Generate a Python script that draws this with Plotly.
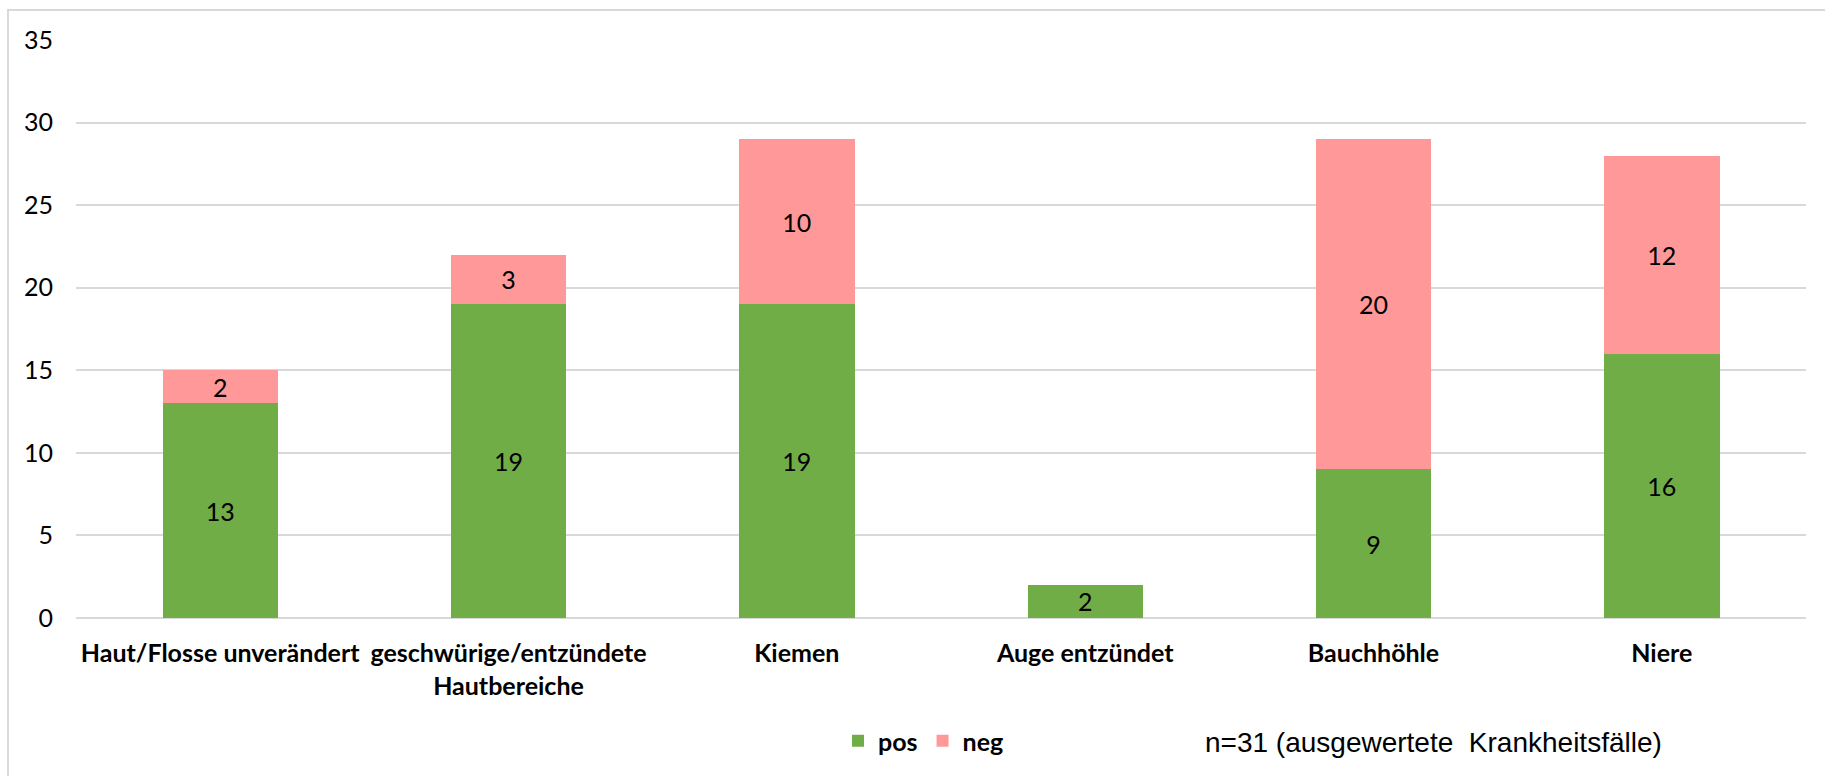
import plotly.graph_objects as go

# Befund je Organ/Körperregion: positive und negative Fälle
categories = [
    "Haut/Flosse unverändert",
    "geschwürige/entzündete<br>Hautbereiche",
    "Kiemen",
    "Auge entzündet",
    "Bauchhöhle",
    "Niere",
]
pos_values = [13, 19, 19, 2, 9, 16]
neg_values = [2, 3, 10, 0, 20, 12]
y_ticks = [0, 5, 10, 15, 20, 25, 30, 35]
note_text = "n=31 (ausgewertete  Krankheitsfälle)"

W, H = 1825, 776
L, R, T, B = 76, 19, 40, 158
plot_w = W - L - R
plot_h = H - T - B


def px_x(x):
    return (x - L) / plot_w


def px_y(y):
    return (H - B - y) / plot_h


FONT = "Lato, Calibri, sans-serif"
label_font = dict(family=FONT, size=25, color="#000000")


def labels(vals):
    return [str(v) if v else "" for v in vals]


fig = go.Figure()
fig.add_trace(go.Bar(
    name="pos", x=categories, y=pos_values, marker_color="#70AD47",
    marker_line_width=0,
    text=labels(pos_values), textposition="inside", insidetextanchor="middle",
    textangle=0, textfont=label_font,
))
fig.add_trace(go.Bar(
    name="neg", x=categories, y=neg_values, marker_color="#FF9999",
    marker_line_width=0,
    text=labels(neg_values), textposition="inside", insidetextanchor="middle",
    textangle=0, textfont=label_font,
))

fig.update_layout(
    width=W, height=H,
    margin=dict(l=L, r=R, t=T, b=B, autoexpand=False),
    barmode="stack", bargap=0.6,
    plot_bgcolor="white", paper_bgcolor="white",
    font=dict(family=FONT, size=25, color="#000000"),
    uniformtext=dict(minsize=25, mode="show"),
    showlegend=True,
    legend=dict(
        orientation="h", traceorder="normal",
        x=px_x(838), y=px_y(741), xanchor="left", yanchor="middle",
        font=dict(family=FONT, size=25, color="#000000", weight="bold"),
        itemwidth=30, tracegroupgap=0, bgcolor="rgba(0,0,0,0)",
    ),
    xaxis=dict(
        showgrid=False, showline=False, ticks="", ticklabelstandoff=18,
        tickfont=dict(family=FONT, size=25, color="#000000", weight="bold"),
    ),
    yaxis=dict(
        range=[0, 35], tickvals=y_ticks, showgrid=True, gridcolor="#D9D9D9", gridwidth=2,
        zeroline=True, zerolinecolor="#D9D9D9", zerolinewidth=2, showline=False,
        ticks="", ticklabelstandoff=22,
        tickfont=dict(family=FONT, size=25, color="#000000"),
    ),
    shapes=[dict(
        type="rect", xref="paper", yref="paper",
        x0=px_x(8), x1=px_x(1840), y0=px_y(800), y1=px_y(10),
        line=dict(color="#D9D9D9", width=2), fillcolor="rgba(0,0,0,0)", layer="below",
    )],
    annotations=[dict(
        text=note_text, xref="paper", yref="paper", x=px_x(1433), y=px_y(742),
        xanchor="center", yanchor="middle", showarrow=False,
        font=dict(family="Liberation Sans Narrow, Arial Narrow, sans-serif", size=28, color="#000000"),
    )],
)

fig.write_html("out.html")
